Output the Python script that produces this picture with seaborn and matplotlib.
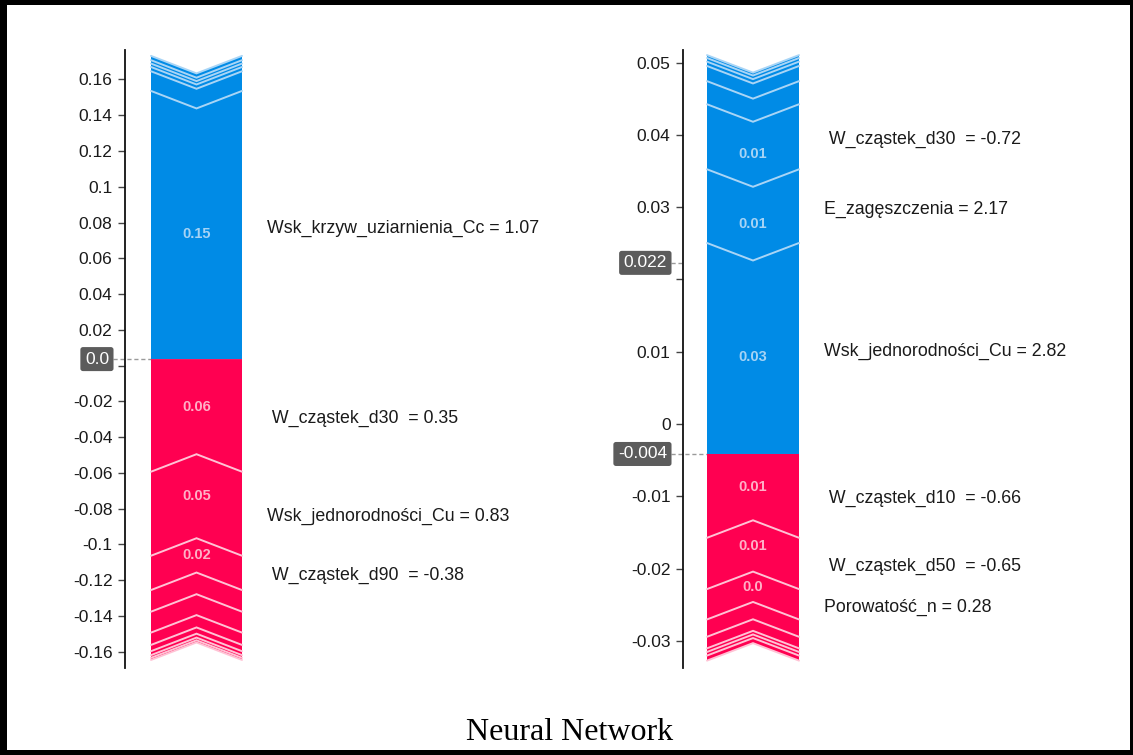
import matplotlib
matplotlib.use("Agg")
import matplotlib.pyplot as plt
from matplotlib.patches import Polygon, Rectangle
import numpy as np
import seaborn as sns

# ---------------- data ----------------
# Left panel: stacks meet at left_split; blue stack goes up, red stack goes down
left_split = 0.0036
left_up = [0.1500, 0.0110, 0.0024, 0.0019, 0.0019, 0.0024]
left_down = [0.0630, 0.0470, 0.0192, 0.0121, 0.0117, 0.0069, 0.0035, 0.0022, 0.0015, 0.0012]
left_up_names = ["Wsk_krzyw_uziarnienia_Cc"]
left_up_feature_values = [1.07]
left_down_names = [" W_cząstek_d30 ", "Wsk_jednorodności_Cu", " W_cząstek_d90 "]
left_down_feature_values = [0.35, 0.83, -0.38]
left_ticks = [0.16, 0.14, 0.12, 0.1, 0.08, 0.06, 0.04, 0.02, 0.0,
              -0.02, -0.04, -0.06, -0.08, -0.1, -0.12, -0.14, -0.16]
left_ylim = (-0.1692, 0.1765)

# Right panel
right_split = -0.00415
right_base = 0.0223
right_up = [0.0292, 0.0102, 0.0090, 0.0032, 0.0021, 0.0006, 0.0005, 0.0004]
right_down = [0.0116, 0.0071, 0.0042, 0.0024, 0.0016, 0.0005, 0.0005, 0.0007]
right_up_names = ["Wsk_jednorodności_Cu", "E_zagęszczenia", " W_cząstek_d30 "]
right_up_feature_values = [2.82, 2.17, -0.72]
right_down_names = [" W_cząstek_d10 ", " W_cząstek_d50 ", "Porowatość_n"]
right_down_feature_values = [-0.66, -0.65, 0.28]
right_ticks = [0.05, 0.04, 0.03, 0.02, 0.01, 0.0, -0.01, -0.02, -0.03]
right_ylim = (-0.03377, 0.05176)

title_text = "Neural Network"

# ---------------- style ----------------
BLUE = "#008BE6"
RED = "#FF0051"
BLUE_LINE = "#A9D5F6"
RED_LINE = "#FFC3D5"
BLUE_TEXT = "#A6D3F5"
RED_TEXT = "#FFB0C6"
LABEL_SIZE = 12.75
TICK_SIZE = 12.5

sns.set_theme(style="white")
plt.rcParams["font.family"] = ["Liberation Sans", "DejaVu Sans"]

W, H = 1133, 755
fig = plt.figure(figsize=(W / 100, H / 100), dpi=100)
fig.patch.set_facecolor("white")

AX_TOP, AX_BOT = 50, 668
AX_H = AX_BOT - AX_TOP
CHEVRON_PX = 17.5


def px_axes(x0, x1):
    return fig.add_axes([x0 / W, 1 - AX_BOT / H, (x1 - x0) / W, AX_H / H])


def feature_label(ax, x, y, text):
    ax.annotate(text, xy=(x, y), xycoords="data", xytext=(0, -3),
                textcoords="offset pixels", ha="left", va="center",
                fontsize=LABEL_SIZE, color="#1a1a1a")


def draw_panel(ax, width, bar_l, bar_r, text_x, split, split_fmt, up, down,
               up_names, up_vals, down_names, down_vals, ylim, ticks, base=None):
    ax.set_xlim(0, width)
    ax.set_ylim(*ylim)
    ax.set_facecolor("none")
    yr = ylim[1] - ylim[0]
    d = CHEVRON_PX * yr / AX_H
    xc = (bar_l + bar_r) / 2

    # upward (blue) stack
    edges = split + np.concatenate([[0.0], np.cumsum(up)])
    for i, v in enumerate(up):
        y0, y1 = edges[i], edges[i + 1]
        c0 = y0 if i == 0 else y0 - d
        c1 = y1 - d
        ax.add_patch(Polygon([(bar_l, y0), (xc, c0), (bar_r, y0), (bar_r, y1),
                              (xc, c1), (bar_l, y1)], closed=True,
                             fc=BLUE, ec="none", zorder=2))
    for i, v in enumerate(up):
        y1 = edges[i + 1]
        ax.plot([bar_l, xc, bar_r], [y1, y1 - d, y1], color=BLUE_LINE,
                lw=1.4, zorder=3, solid_joinstyle="miter")
        if i < len(up_names):
            y0 = edges[i]
            c0 = y0 if i == 0 else y0 - d
            ax.text(xc, (c0 + y1 - d) / 2, str(round(v, 2)), ha="center",
                    va="center", color=BLUE_TEXT, fontsize=10.5, fontweight="bold",
                    zorder=4)
            feature_label(ax, text_x, (y0 + y1) / 2,
                          f"{up_names[i]} = {up_vals[i]:.2f}")

    # downward (red) stack
    edges = split - np.concatenate([[0.0], np.cumsum(down)])
    for i, v in enumerate(down):
        y0, y1 = edges[i], edges[i + 1]
        c0 = y0 if i == 0 else y0 + d
        c1 = y1 + d
        ax.add_patch(Polygon([(bar_l, y0), (xc, c0), (bar_r, y0), (bar_r, y1),
                              (xc, c1), (bar_l, y1)], closed=True,
                             fc=RED, ec="none", zorder=2))
    for i, v in enumerate(down):
        y1 = edges[i + 1]
        ax.plot([bar_l, xc, bar_r], [y1, y1 + d, y1], color=RED_LINE,
                lw=1.4, zorder=3, solid_joinstyle="miter")
        if i < len(down_names):
            y0 = edges[i]
            c0 = y0 if i == 0 else y0 + d
            ax.text(xc, (c0 + y1 + d) / 2, str(round(v, 2)), ha="center",
                    va="center", color=RED_TEXT, fontsize=10.5, fontweight="bold",
                    zorder=4)
            feature_label(ax, text_x, (y0 + y1) / 2,
                          f"{down_names[i]} = {down_vals[i]:.2f}")

    # value boxes on the axis
    boxes = [(split, bar_l)]
    if base is not None:
        boxes.append((base, 0))
    for val, x_end in boxes:
        ax.plot([-12, x_end], [val, val], ls=(0, (3, 2)), color="#9a9a9a",
                lw=1.0, clip_on=False, zorder=1)
        ax.annotate(split_fmt.format(val), xy=(0, val), xycoords="data",
                    xytext=(-16, 0), textcoords="offset pixels",
                    ha="right", va="center", fontsize=TICK_SIZE, color="white",
                    bbox=dict(boxstyle="round,pad=0.26,rounding_size=0.15",
                              fc="#5c5c5c", ec="none"))

    # ticks: hide labels that sit under a value box
    ax.set_yticks(ticks)
    labels = []
    for t in ticks:
        hidden = any(abs(t - b[0]) / yr * AX_H < 20 for b in boxes)
        labels.append("" if hidden else ("%g" % round(t, 4)))
    ax.set_yticklabels(labels)
    ax.set_xticks([])
    ax.tick_params(axis="y", left=True, length=5, width=1, color="#444444",
                   pad=4, labelsize=TICK_SIZE, labelcolor="#1a1a1a")
    sns.despine(ax=ax, top=True, right=True, bottom=True, left=False)
    ax.spines["left"].set_color("#111111")
    ax.spines["left"].set_linewidth(1.3)
    ax.grid(False)


axL = px_axes(125, 580)
draw_panel(axL, 455, 26, 117, 142, left_split, "{:.1f}", left_up, left_down,
           left_up_names, left_up_feature_values,
           left_down_names, left_down_feature_values, left_ylim, left_ticks)

axR = px_axes(683, 1110)
draw_panel(axR, 427, 24, 116, 141, right_split, "{:.3f}", right_up, right_down,
           right_up_names, right_up_feature_values,
           right_down_names, right_down_feature_values, right_ylim, right_ticks,
           base=right_base)

fig.text(569.5 / W, 1 - 732 / H, title_text, ha="center", va="center",
         fontsize=23, family=["Liberation Serif", "DejaVu Serif"], color="black")

# black frame around the figure
for (x, y, w, h) in [(0, 0, 7, H), (0, 0, W, 5), (0, H - 5, W, 5), (W - 3, 0, 3, H)]:
    fig.add_artist(Rectangle((x / W, 1 - (y + h) / H), w / W, h / H,
                             transform=fig.transFigure, fc="black", ec="none",
                             zorder=10))

fig.savefig("out.png", dpi=100)
